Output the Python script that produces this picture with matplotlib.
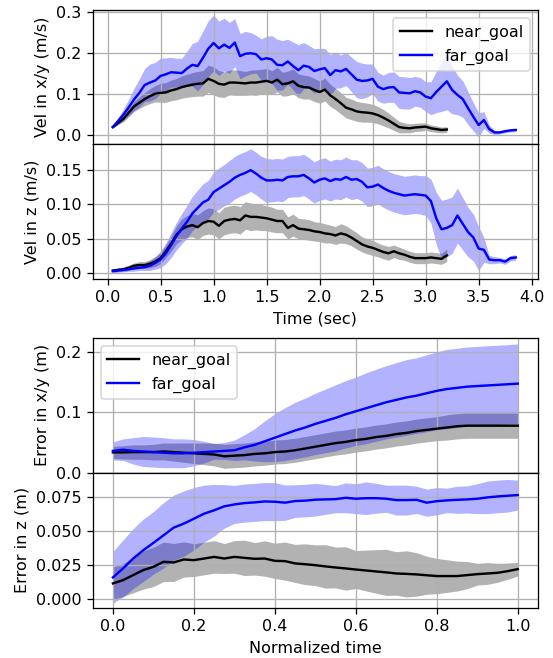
import numpy as np
import matplotlib
matplotlib.use("Agg")
import matplotlib.pyplot as plt

# time grids
t_near = np.round(np.arange(1, 65) * 0.05, 2)   # 0.05 .. 3.20 s
t_far = np.round(np.arange(1, 78) * 0.05, 2)    # 0.05 .. 3.85 s
t_norm = np.round(np.arange(0, 41) * 0.025, 3)  # 0 .. 1

# velocity in x/y (m/s): mean and std
near_vxy = [0.020, 0.030, 0.040, 0.055, 0.070, 0.079, 0.088, 0.095, 0.101, 0.103,
            0.104, 0.109, 0.112, 0.117, 0.120, 0.123, 0.125, 0.126, 0.137, 0.132,
            0.125, 0.123, 0.128, 0.128, 0.127, 0.126, 0.128, 0.128, 0.130, 0.132,
            0.128, 0.135, 0.124, 0.126, 0.131, 0.120, 0.117, 0.116, 0.110, 0.105,
            0.111, 0.097, 0.088, 0.078, 0.067, 0.063, 0.058, 0.056, 0.055, 0.053,
            0.049, 0.043, 0.036, 0.028, 0.020, 0.018, 0.017, 0.019, 0.020, 0.021,
            0.017, 0.015, 0.013, 0.014]
near_vxy_std = [0.002, 0.004, 0.007, 0.010, 0.012, 0.014, 0.016, 0.018, 0.020, 0.023,
                0.024, 0.025, 0.026, 0.027, 0.028, 0.029, 0.030, 0.031, 0.033, 0.034,
                0.032, 0.031, 0.030, 0.031, 0.030, 0.029, 0.030, 0.031, 0.030, 0.030,
                0.029, 0.030, 0.029, 0.030, 0.030, 0.029, 0.029, 0.028, 0.028, 0.027,
                0.028, 0.027, 0.026, 0.026, 0.025, 0.025, 0.024, 0.024, 0.023, 0.022,
                0.021, 0.020, 0.018, 0.016, 0.014, 0.012, 0.011, 0.010, 0.010, 0.009,
                0.008, 0.008, 0.007, 0.007]
far_vxy = [0.020, 0.035, 0.050, 0.068, 0.087, 0.103, 0.122, 0.128, 0.133, 0.144,
           0.148, 0.153, 0.152, 0.151, 0.162, 0.171, 0.168, 0.188, 0.210, 0.224,
           0.211, 0.220, 0.212, 0.225, 0.192, 0.198, 0.199, 0.197, 0.184, 0.187,
           0.184, 0.171, 0.170, 0.179, 0.168, 0.158, 0.169, 0.166, 0.156, 0.160,
           0.163, 0.146, 0.158, 0.155, 0.161, 0.148, 0.135, 0.132, 0.133, 0.137,
           0.118, 0.112, 0.116, 0.117, 0.104, 0.103, 0.102, 0.107, 0.104, 0.094,
           0.090, 0.105, 0.118, 0.131, 0.110, 0.098, 0.088, 0.066, 0.045, 0.025,
           0.037, 0.015, 0.007, 0.007, 0.010, 0.012, 0.013]
far_vxy_std = [0.002, 0.008, 0.014, 0.020, 0.027, 0.034, 0.040, 0.045, 0.044, 0.043,
               0.040, 0.036, 0.035, 0.036, 0.042, 0.052, 0.060, 0.065, 0.068, 0.068,
               0.066, 0.064, 0.062, 0.058, 0.055, 0.054, 0.050, 0.046, 0.050, 0.053,
               0.058, 0.062, 0.060, 0.054, 0.058, 0.062, 0.056, 0.052, 0.054, 0.051,
               0.048, 0.050, 0.044, 0.040, 0.040, 0.042, 0.044, 0.043, 0.040, 0.036,
               0.035, 0.034, 0.036, 0.037, 0.039, 0.039, 0.038, 0.036, 0.036, 0.036,
               0.040, 0.050, 0.060, 0.069, 0.058, 0.048, 0.044, 0.040, 0.034, 0.030,
               0.020, 0.010, 0.005, 0.004, 0.004, 0.004, 0.004]

# velocity in z (m/s): mean and std
near_vz = [0.004, 0.005, 0.006, 0.008, 0.011, 0.012, 0.012, 0.014, 0.017, 0.022,
           0.032, 0.043, 0.056, 0.064, 0.068, 0.070, 0.067, 0.073, 0.076, 0.075,
           0.069, 0.076, 0.078, 0.079, 0.077, 0.084, 0.082, 0.082, 0.081, 0.080,
           0.078, 0.076, 0.076, 0.066, 0.070, 0.065, 0.064, 0.063, 0.061, 0.060,
           0.058, 0.057, 0.055, 0.058, 0.056, 0.052, 0.047, 0.042, 0.039, 0.037,
           0.034, 0.031, 0.029, 0.032, 0.029, 0.027, 0.024, 0.022, 0.022, 0.022,
           0.023, 0.022, 0.021, 0.026]
near_vz_std = [0.002, 0.003, 0.003, 0.004, 0.004, 0.005, 0.005, 0.006, 0.007, 0.008,
               0.009, 0.011, 0.013, 0.015, 0.016, 0.017, 0.018, 0.018, 0.019, 0.019,
               0.019, 0.020, 0.020, 0.020, 0.020, 0.020, 0.020, 0.019, 0.019, 0.018,
               0.018, 0.017, 0.017, 0.016, 0.016, 0.015, 0.015, 0.015, 0.014, 0.014,
               0.014, 0.013, 0.013, 0.014, 0.013, 0.012, 0.012, 0.011, 0.011, 0.011,
               0.010, 0.010, 0.010, 0.009, 0.009, 0.008, 0.008, 0.008, 0.008, 0.008,
               0.008, 0.008, 0.008, 0.009]
far_vz = [0.003, 0.004, 0.005, 0.006, 0.007, 0.008, 0.009, 0.011, 0.015, 0.020,
          0.029, 0.041, 0.054, 0.065, 0.075, 0.087, 0.095, 0.103, 0.107, 0.118,
          0.123, 0.128, 0.133, 0.139, 0.143, 0.146, 0.150, 0.145, 0.139, 0.135,
          0.135, 0.136, 0.135, 0.140, 0.141, 0.141, 0.143, 0.138, 0.132, 0.136,
          0.138, 0.134, 0.137, 0.136, 0.140, 0.136, 0.137, 0.133, 0.125, 0.126,
          0.129, 0.124, 0.120, 0.117, 0.115, 0.113, 0.114, 0.115, 0.114, 0.113,
          0.105, 0.080, 0.064, 0.066, 0.070, 0.084, 0.072, 0.060, 0.052, 0.036,
          0.034, 0.020, 0.019, 0.019, 0.017, 0.022, 0.023]
far_vz_std = [0.002, 0.002, 0.003, 0.003, 0.004, 0.004, 0.005, 0.007, 0.009, 0.012,
              0.015, 0.018, 0.020, 0.022, 0.024, 0.025, 0.026, 0.027, 0.028, 0.029,
              0.030, 0.030, 0.031, 0.031, 0.031, 0.031, 0.031, 0.031, 0.031, 0.032,
              0.031, 0.031, 0.031, 0.030, 0.030, 0.030, 0.030, 0.030, 0.030, 0.030,
              0.030, 0.029, 0.029, 0.029, 0.029, 0.029, 0.028, 0.028, 0.028, 0.028,
              0.028, 0.028, 0.028, 0.028, 0.028, 0.028, 0.028, 0.028, 0.028, 0.029,
              0.032, 0.038, 0.042, 0.042, 0.041, 0.040, 0.038, 0.036, 0.034, 0.032,
              0.018, 0.006, 0.005, 0.004, 0.004, 0.004, 0.004]

# position error in x/y (m) over normalized time
near_exy = [0.0335, 0.0335, 0.034, 0.034, 0.034, 0.035, 0.034, 0.033, 0.032, 0.031,
            0.030, 0.027, 0.028, 0.029, 0.031, 0.032, 0.034, 0.035, 0.037, 0.040,
            0.043, 0.046, 0.049, 0.051, 0.054, 0.056, 0.059, 0.061, 0.064, 0.066,
            0.069, 0.071, 0.073, 0.075, 0.077, 0.078, 0.078, 0.078, 0.078, 0.078,
            0.078]
near_exy_std = [0.010, 0.011, 0.012, 0.012, 0.013, 0.014, 0.015, 0.016, 0.017, 0.018,
                0.019, 0.020, 0.020, 0.020, 0.020, 0.020, 0.020, 0.020, 0.020, 0.020,
                0.020, 0.020, 0.020, 0.020, 0.020, 0.020, 0.020, 0.020, 0.020, 0.020,
                0.020, 0.020, 0.020, 0.021, 0.021, 0.021, 0.021, 0.021, 0.021, 0.021,
                0.021]
far_exy = [0.036, 0.038, 0.036, 0.035, 0.034, 0.033, 0.032, 0.032, 0.033, 0.034,
           0.035, 0.036, 0.037, 0.042, 0.046, 0.052, 0.058, 0.064, 0.070, 0.075,
           0.081, 0.086, 0.091, 0.097, 0.102, 0.107, 0.112, 0.117, 0.121, 0.125,
           0.128, 0.132, 0.136, 0.139, 0.141, 0.143, 0.144, 0.145, 0.146, 0.147,
           0.148]
far_exy_std = [0.015, 0.018, 0.022, 0.025, 0.025, 0.025, 0.024, 0.024, 0.022, 0.018,
               0.013, 0.014, 0.017, 0.021, 0.027, 0.034, 0.040, 0.044, 0.047, 0.049,
               0.051, 0.053, 0.055, 0.056, 0.057, 0.059, 0.060, 0.061, 0.062, 0.063,
               0.063, 0.064, 0.065, 0.066, 0.066, 0.066, 0.066, 0.066, 0.066, 0.066,
               0.066]

# position error in z (m) over normalized time
near_ez = [0.0115, 0.0139, 0.0176, 0.0213, 0.0237, 0.0274, 0.0269, 0.0291, 0.0286, 0.0298,
           0.0310, 0.0298, 0.0310, 0.0303, 0.0296, 0.0298, 0.0281, 0.0279, 0.0262, 0.0256,
           0.0249, 0.0240, 0.0232, 0.0225, 0.0217, 0.0210, 0.0203, 0.0196, 0.0188, 0.0185,
           0.0181, 0.0175, 0.0169, 0.0169, 0.0169, 0.0176, 0.0183, 0.0188, 0.0193, 0.0205,
           0.0220]
near_ez_std = [0.012, 0.012, 0.013, 0.014, 0.0145, 0.0145, 0.014, 0.013, 0.012, 0.012,
               0.012, 0.011, 0.012, 0.013, 0.012, 0.013, 0.013, 0.014, 0.014, 0.015,
               0.015, 0.016, 0.015, 0.016, 0.014, 0.015, 0.016, 0.017, 0.016, 0.017,
               0.016, 0.014, 0.013, 0.012, 0.011, 0.010, 0.008, 0.008, 0.007, 0.006,
               0.005]
far_ez = [0.0159, 0.0225, 0.0298, 0.0359, 0.0413, 0.0469, 0.0525, 0.0555, 0.0591, 0.0628,
          0.0653, 0.0682, 0.0696, 0.0706, 0.0711, 0.0718, 0.0716, 0.0709, 0.0721, 0.0724,
          0.0731, 0.0733, 0.0735, 0.0745, 0.0738, 0.0742, 0.0742, 0.0738, 0.0728, 0.0728,
          0.0730, 0.0709, 0.0720, 0.0726, 0.0730, 0.0733, 0.0738, 0.0748, 0.0755, 0.0760,
          0.0765]
far_ez_std = [0.019, 0.021, 0.022, 0.023, 0.023, 0.024, 0.024, 0.024, 0.023, 0.021,
              0.019, 0.016, 0.014, 0.014, 0.014, 0.014, 0.014, 0.013, 0.012, 0.012,
              0.012, 0.011, 0.010, 0.011, 0.011, 0.012, 0.011, 0.010, 0.011, 0.011,
              0.010, 0.010, 0.010, 0.009, 0.010, 0.010, 0.011, 0.012, 0.012, 0.012,
              0.011]


def band_plot(ax, x_near, m_near, s_near, x_far, m_far, s_far):
    m_near, s_near = np.array(m_near), np.array(s_near)
    m_far, s_far = np.array(m_far), np.array(s_far)
    ax.fill_between(x_near, m_near - s_near, m_near + s_near, color='k', alpha=0.3, lw=0)
    ax.fill_between(x_far, m_far - s_far, m_far + s_far, color='b', alpha=0.3, lw=0)
    ax.plot(x_near, m_near, color='k', lw=1.5, label='near_goal')
    ax.plot(x_far, m_far, color='b', lw=1.5, label='far_goal')
    ax.grid(True)


DPI = 115
fig = plt.figure(figsize=(553 / DPI, 658 / DPI), dpi=DPI)
ax1 = fig.add_axes([0.1676, 0.7812, 0.8053, 0.2036])
ax2 = fig.add_axes([0.1676, 0.5760, 0.8053, 0.2052], sharex=ax1)
ax3 = fig.add_axes([0.1676, 0.2819, 0.8053, 0.2044])
ax4 = fig.add_axes([0.1676, 0.0760, 0.8053, 0.2059], sharex=ax3)

band_plot(ax1, t_near, near_vxy, near_vxy_std, t_far, far_vxy, far_vxy_std)
ax1.set_ylabel('Vel in x/y (m/s)')
ax1.set_ylim(-0.021, 0.304)
ax1.set_yticks([0.0, 0.1, 0.2, 0.3])
ax1.legend(loc='upper right')
plt.setp(ax1.get_xticklabels(), visible=False)

band_plot(ax2, t_near, near_vz, near_vz_std, t_far, far_vz, far_vz_std)
ax2.set_ylabel('Vel in z (m/s)')
ax2.set_ylim(-0.0083, 0.188)
ax2.set_yticks([0.0, 0.05, 0.10, 0.15])
ax2.set_xlim(-0.14, 4.06)
ax2.set_xticks(np.arange(0, 4.01, 0.5))
ax2.set_xlabel('Time (sec)')

band_plot(ax3, t_norm, near_exy, near_exy_std, t_norm, far_exy, far_exy_std)
ax3.set_ylabel('Error in x/y (m)')
ax3.set_ylim(0.0, 0.224)
ax3.set_yticks([0.0, 0.1, 0.2])
ax3.legend(loc='upper left')
plt.setp(ax3.get_xticklabels(), visible=False)

band_plot(ax4, t_norm, near_ez, near_ez_std, t_norm, far_ez, far_ez_std)
ax4.set_ylabel('Error in z (m)')
ax4.set_ylim(-0.0066, 0.0931)
ax4.set_yticks([0.0, 0.025, 0.05, 0.075])
ax4.set_xlim(-0.05, 1.05)
ax4.set_xlabel('Normalized time')

fig.savefig('out.png', dpi=DPI)
